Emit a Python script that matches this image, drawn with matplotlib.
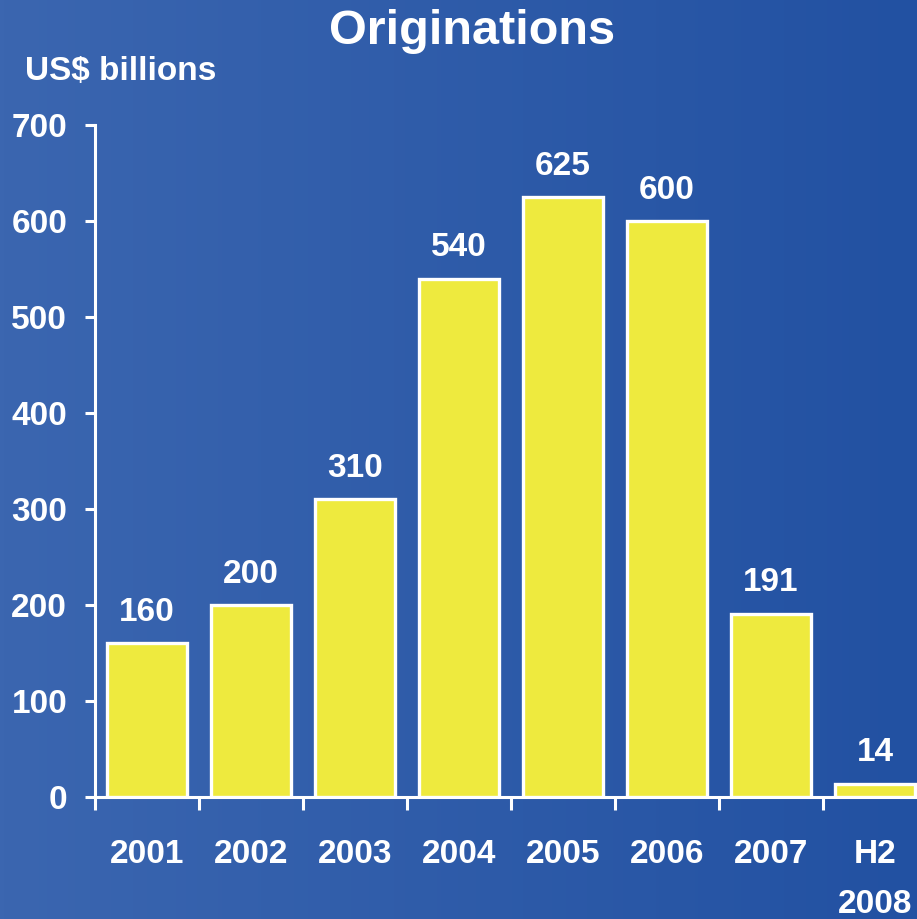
import numpy as np
import matplotlib
matplotlib.use('Agg')
from matplotlib import pyplot as plt

# originations by year, US$ billions
years = ['2001', '2002', '2003', '2004', '2005', '2006', '2007', 'H2\n2008']
values = [160, 200, 310, 540, 625, 600, 191, 14]
yticks = [0, 100, 200, 300, 400, 500, 600, 700]

plt.rcParams['font.family'] = ['Liberation Sans', 'DejaVu Sans']
plt.rcParams['font.weight'] = 'bold'

W, H = 917, 919
fig = plt.figure(figsize=(W / 100, H / 100), dpi=100)

# horizontal blue gradient behind everything
bg = fig.add_axes([0, 0, 1, 1], zorder=-10)
left_col = np.array([0x3B, 0x66, 0xB0]) / 255
right_col = np.array([0x22, 0x51, 0xA2]) / 255
t = np.linspace(0, 1, 256)
grad = left_col[None, :] * (1 - t[:, None]) + right_col[None, :] * t[:, None]
bg.imshow(grad[None, :, :], aspect='auto', extent=[0, 1, 0, 1])
bg.set_axis_off()

# plot area: x from 95px to 927px (runs past right edge), y from 797px (0) to 125px (700)
ax = fig.add_axes([95 / W, (H - 797) / H, 832 / W, 672 / H])
ax.patch.set_alpha(0)

x = np.arange(len(values))
ax.bar(x, values, width=0.77, color='#EEEA3E', edgecolor='white', linewidth=2.4, zorder=3)

for xi, v in zip(x, values):
    ax.annotate(str(v), (xi, v), xytext=(0, 11), textcoords='offset points',
                ha='center', va='bottom', color='white', fontsize=24, fontweight='bold')

ax.set_xlim(-0.5, len(values) - 0.5)
ax.set_ylim(0, 700)

ax.set_yticks(yticks)
ax.set_yticklabels([str(v) for v in yticks])
ax.tick_params(axis='y', colors='white', length=7, width=2.2, pad=13, labelsize=24)

# category boundaries as major ticks, year labels on minor ticks
ax.set_xticks(np.arange(len(values) + 1) - 0.5)
ax.set_xticklabels([])
ax.tick_params(axis='x', which='major', colors='white', length=9, width=2.2)
ax.set_xticks(x, minor=True)
ax.set_xticklabels(years, minor=True)
ax.tick_params(axis='x', which='minor', colors='white', length=0, pad=30, labelsize=24)
for lbl in ax.get_xticklabels(minor=True):
    lbl.set_linespacing(1.8)

for s in ['top', 'right']:
    ax.spines[s].set_visible(False)
for s in ['left', 'bottom']:
    ax.spines[s].set_color('white')
    ax.spines[s].set_linewidth(2.2)

fig.text(472 / W, 1 - 32 / H, 'Originations', ha='center', va='center',
         color='white', fontsize=35, fontweight='bold')
fig.text(25 / W, 1 - 80 / H, 'US$ billions', ha='left', va='baseline',
         color='white', fontsize=24, fontweight='bold')

fig.savefig('out.png', dpi=100)
